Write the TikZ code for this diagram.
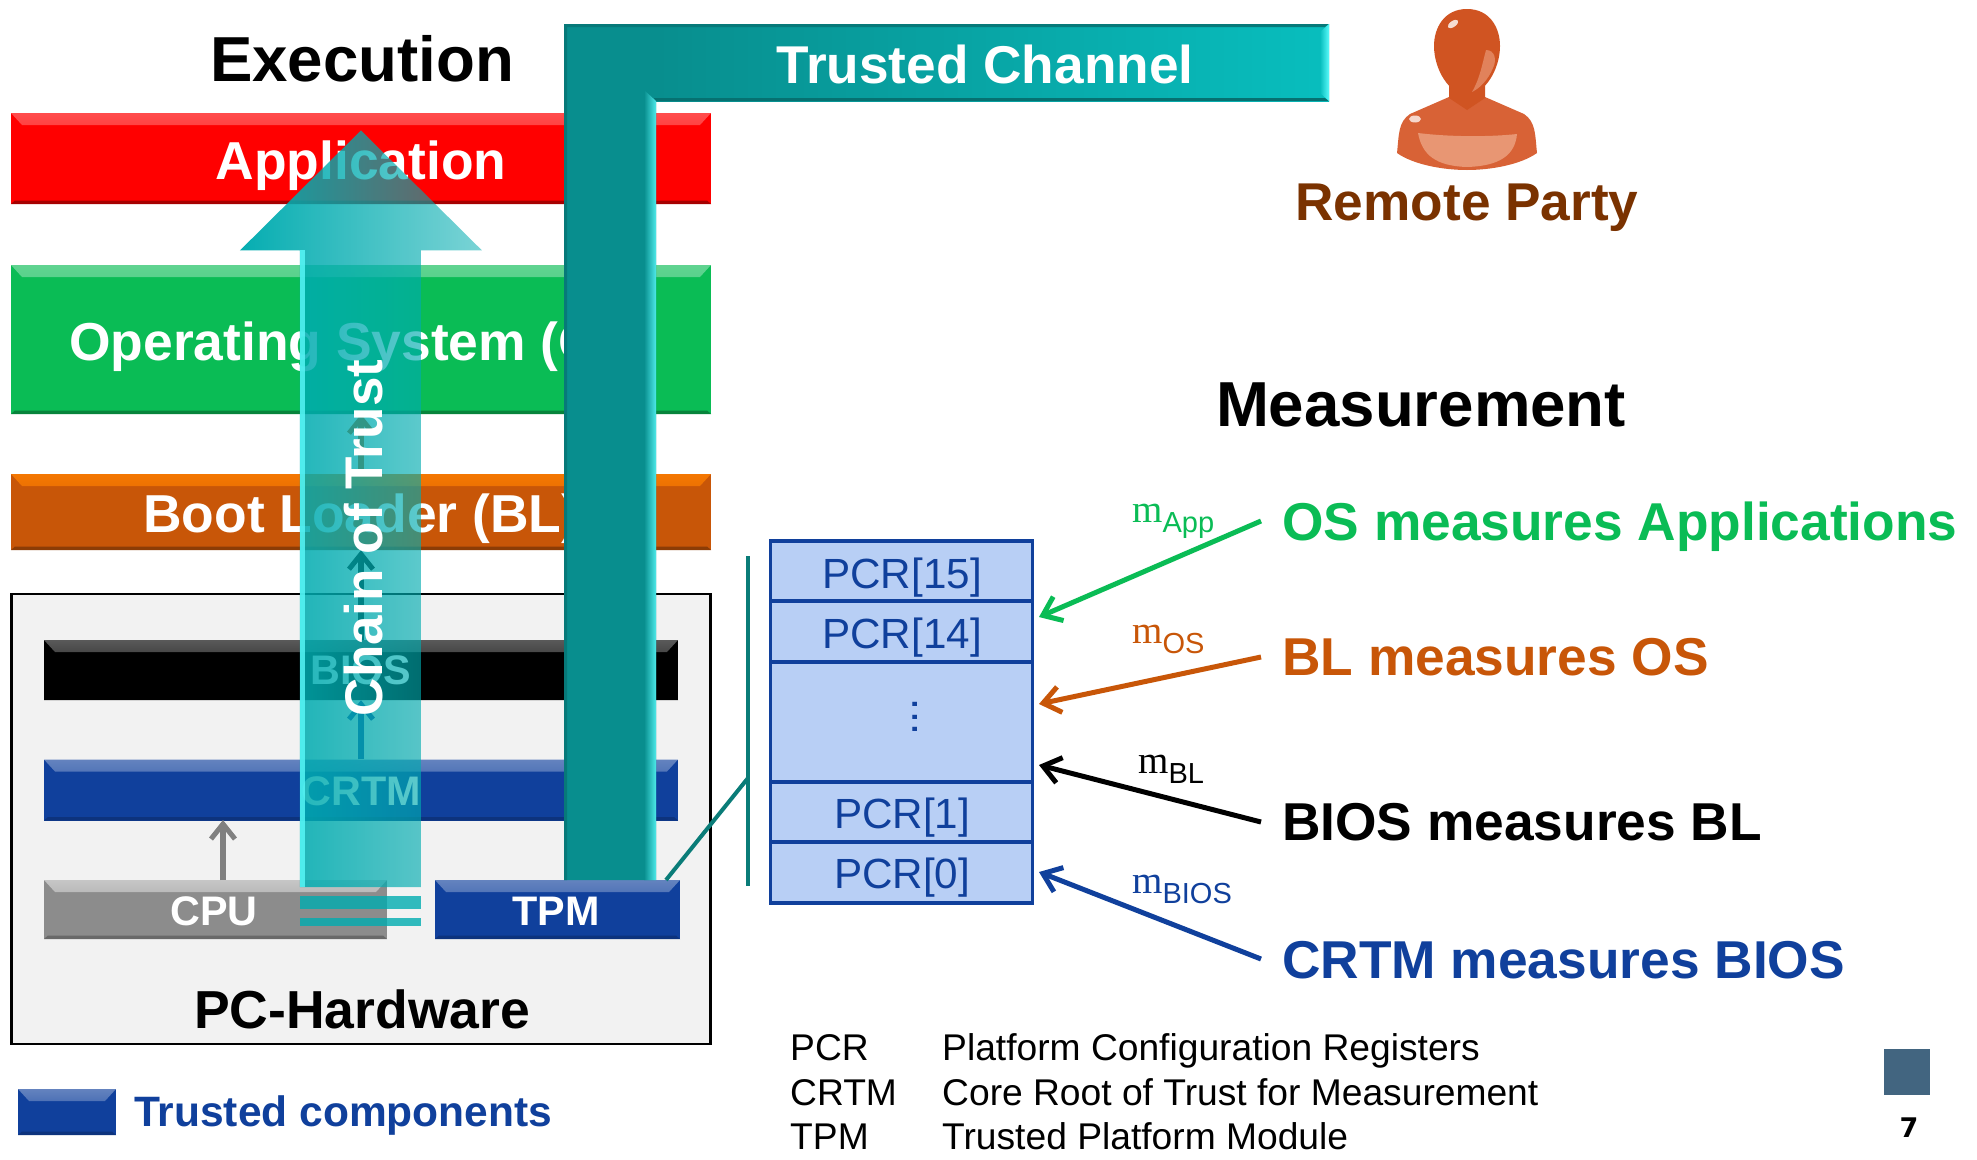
\documentclass[tikz,border=0pt]{standalone}
\usepackage{fontspec}
\setmainfont{Liberation Sans}
\newfontfamily\serifm{Liberation Serif}
\newfontfamily\pagefont{DejaVu Sans}
\usetikzlibrary{arrows.meta,fadings,positioning}
\tikzfading[name=chainfade,left color=transparent!2,right color=transparent!48]
\newcommand{\fsz}[1]{\fontsize{#1}{#1}\selectfont}
\tikzset{
 x=1pt,y=-1pt,
 layerbox/.style n args={3}{draw=none,fill=#1,minimum width=700pt,inner sep=0pt,
   path picture={
     \shade[top color=#2,bottom color=#1] (path picture bounding box.north west)--(path picture bounding box.north east)--([xshift=-11pt,yshift=-12pt]path picture bounding box.north east)--([xshift=11pt,yshift=-12pt]path picture bounding box.north west)--cycle;
     \fill[#3] (path picture bounding box.south west)--(path picture bounding box.south east)--([xshift=-4pt,yshift=3.5pt]path picture bounding box.south east)--([xshift=4pt,yshift=3.5pt]path picture bounding box.south west)--cycle;
   }},
 bartext/.style={text=white,font=\bfseries\fsz{53.4}},
 smalltext/.style={text=white,font=\bfseries\fsz{41.3}},
 heading/.style={font=\bfseries\fsz{63.6},anchor=base},
 meas/.style={font=\bfseries\fsz{53.3},anchor=base west,inner sep=0pt},
 pcrcell/.style={draw=pcrblue,line width=3.6pt,fill=pcrfill,minimum width=262pt,inner sep=0pt},
 pcrtext/.style={text=pcrblue,font=\fsz{42.2},anchor=base},
 legendtext/.style={font=\fsz{37.2},anchor=base west},
 mlabel/.style={anchor=base west,inner sep=0pt},
 measarrow/.style={line width=5pt,-{Straight Barb[length=17pt,width=26pt,line width=5pt]}},
 smallarrow/.style={line width=6pt,-{Straight Barb[length=15pt,width=24pt,line width=5pt]}},
}
\definecolor{appred}{RGB}{255,0,0}
\definecolor{osgreen}{RGB}{10,188,85}
\definecolor{blorange}{RGB}{200,86,8}
\definecolor{trustblue}{RGB}{16,64,156}
\definecolor{cpugray}{RGB}{140,140,140}
\definecolor{hwbg}{RGB}{242,242,242}
\definecolor{pcrblue}{RGB}{16,64,156}
\definecolor{pcrfill}{RGB}{184,207,245}
\definecolor{tealline}{RGB}{10,124,120}
\definecolor{chdark}{RGB}{8,142,142}
\definecolor{chbright}{RGB}{8,190,190}
\definecolor{chainc}{RGB}{0,172,176}
\definecolor{chglow}{RGB}{90,250,250}
\definecolor{brownt}{RGB}{122,50,0}
\definecolor{pagesq}{RGB}{66,101,128}
\definecolor{persona}{RGB}{208,84,34}
\definecolor{personc}{RGB}{216,98,54}
\definecolor{personb}{RGB}{232,150,115}
\newcommand{\mlab}[2]{{\color{#1}{\serifm\fsz{39}m}\raisebox{-10pt}{\fsz{29}#2}}}
\begin{document}
\begin{tikzpicture}
\useasboundingbox (0,0) rectangle (1977,1159);
\fill[white] (0,0) rectangle (1977,1159);

% PC hardware
\node[draw=black,line width=2.5pt,fill=hwbg,minimum width=699pt,minimum height=450pt,inner sep=0pt] (hw) at (361,819) {};
\node[anchor=base,font=\bfseries\fsz{53.5}] (hwt) at (362,1028) {PC-Hardware};

% Layers
\node[layerbox={appred}{red!70!white}{red!65!black},minimum height=91pt] (app) at (361,158.5) {};
\node[bartext,anchor=base] (appt) at (361,179) {Application};
\node[layerbox={osgreen}{osgreen!65!white}{osgreen!70!black},minimum height=149pt] (oslayer) at (361,339.5) {};
\node[bartext,anchor=base west,inner sep=0pt] (ost) at (69,360) {Operating System (OS)};
\node[layerbox={blorange}{orange!80!blorange}{blorange!70!black},minimum height=76pt] (bl) at (361,512) {};
\node[bartext,anchor=base west,inner sep=0pt] (blt) at (143,532) {Boot Loader (BL)};
\node[layerbox={black}{gray!70!black}{black},minimum width=634pt,minimum height=60pt] (bios) at (361,670) {};
\node[smalltext,anchor=base] (biost) at (361,684) {BIOS};
\node[layerbox={trustblue}{trustblue!65!white}{trustblue!80!black},minimum width=634pt,minimum height=61pt] (crtm) at (361,790) {};
\node[smalltext,anchor=base] (crtmt) at (361,805) {CRTM};
\node[layerbox={cpugray}{cpugray!50!white}{cpugray!75!black},minimum width=343pt,minimum height=59pt] (cpu) at (215.5,909.5) {};
\node[smalltext,anchor=base] (cput) at (214,925) {CPU};
\node[layerbox={trustblue}{trustblue!65!white}{trustblue!80!black},minimum width=245pt,minimum height=59pt] (tpm) at (557.5,909.5) {};
\node[smalltext,anchor=base] (tpmt) at (556,925) {TPM};

% Small flow arrows
\coordinate (cpuup) at (223,880);
\coordinate (crtmdown) at (223,820);
\draw[smallarrow,draw=gray] (cpuup) -- (crtmdown);
\draw[smallarrow,draw=trustblue] (crtm.north) -- (bios.south);
\draw[smallarrow,draw=black] (bios.north) -- (bl.south);
\draw[smallarrow,draw=blorange] (bl.north) -- (oslayer.south);

% Chain of trust arrow
\fill[chainc,path fading=chainfade]
  (361,130) -- (482,250) -- (421,250) -- (421,887) -- (300,887) -- (300,250) -- (240,250) -- cycle;
\fill[chainc,opacity=.8] (300,896) rectangle (421,909);
\fill[chainc,opacity=.8] (300,918) rectangle (421,926);
\fill[chglow,opacity=.8] (300,250) rectangle (305,887);
\node[text=white,font=\bfseries\fsz{53},rotate=90,anchor=base] (chain) at (382,538) {Chain of Trust};

% TPM to PCR lines
\coordinate (bracetop) at (748,556);
\coordinate (bracebot) at (748,886);
\coordinate (bracemid) at (748,778);
\draw[tealline,line width=4pt] (bracetop) -- (bracebot);
\draw[tealline,line width=4pt] (666,880) -- (bracemid);

% Trusted channel
\shade[left color=chdark,right color=chbright]
  (656,24) rectangle (1329,101);
\fill[chdark] (564,24) -- (656,24) -- (656,101) -- (656,880) -- (564,880) -- cycle;
\fill[chdark!85!black] (564,24) -- (1329,24) -- (1325,27) -- (567,27) -- (567,880) -- (564,880) -- cycle;
\fill[chdark!80!black] (656,101) -- (1329,101) -- (1325,98) -- (653,98) -- cycle;
\shade[left color=chdark,right color=chglow!85!chdark] (644,90) -- (656,101) -- (656,880) -- (644,880) -- cycle;
\shade[left color=chbright,right color=chglow] (1320,32) -- (1329,24) -- (1329,101) -- (1320,93) -- cycle;
\node[font=\bfseries\fsz{53.2},text=white,anchor=base] (chant) at (985,83) {Trusted Channel};

% Headings
\node[heading] (exec) at (362,81) {Execution};
\node[heading] (measure) at (1421,426) {Measurement};

% Person
\fill[personc] (1397,153) .. controls (1399,135) and (1398,122) .. (1410,114) -- (1449,97) -- (1485,97) -- (1524,114) .. controls (1536,122) and (1535,135) .. (1537,153) .. controls (1520,165) and (1490,170) .. (1467,170) .. controls (1444,170) and (1414,165) .. (1397,153) -- cycle;
\fill[persona] (1449,70) -- (1485,70) -- (1485,98) -- (1467,110) -- (1449,98) -- cycle;
\fill[persona] (1467,9) .. controls (1490,9) and (1500,28) .. (1500,46) .. controls (1500,70) and (1484,95) .. (1467,95) .. controls (1450,95) and (1434,70) .. (1434,46) .. controls (1434,28) and (1444,9) .. (1467,9) -- cycle;
\fill[personb!70!persona] (1486,50) .. controls (1495,50) and (1497,60) .. (1493,68) .. controls (1488,80) and (1480,88) .. (1472,92) .. controls (1480,78) and (1482,65) .. (1486,50) -- cycle;
\fill[personb] (1418,133) .. controls (1450,137) and (1490,137) .. (1517,134) .. controls (1515,155) and (1500,166) .. (1467,167) .. controls (1436,166) and (1422,155) .. (1418,133) -- cycle;
\fill[white,opacity=.8,rotate around={35:(1453,24)}] (1453,24) ellipse [x radius=6pt,y radius=3pt];
\fill[white,opacity=.75] (1415,119) ellipse [x radius=6pt,y radius=3.5pt];
\node[font=\bfseries\fsz{53.2},text=brownt,anchor=base] (remote) at (1467,220) {Remote Party};

% PCR stack
\node[pcrcell,minimum height=60pt] (p15) at (901.5,571) {};
\node[pcrcell,minimum height=61pt] (p14) at (901.5,631.5) {};
\node[pcrcell,minimum height=120pt] (pdots) at (901.5,722) {};
\node[pcrcell,minimum height=60pt] (p1) at (901.5,812) {};
\node[pcrcell,minimum height=61pt] (p0) at (901.5,872.5) {};
\node[pcrtext] (t15) at (902,588) {PCR[15]};
\node[pcrtext] (t14) at (902,648) {PCR[14]};
\node[pcrtext] (t1) at (902,828) {PCR[1]};
\node[pcrtext] (t0) at (902,888) {PCR[0]};
\node[text=pcrblue,font=\fsz{44},rotate=90,inner sep=0pt] (tdots) at (915,717) {...};

% Measurement labels
\node[meas,text=osgreen] (mos) at (1282,540) {OS measures Applications};
\node[meas,text=blorange] (mbl) at (1282,675) {BL measures OS};
\node[meas,text=black] (mbios) at (1282,840) {BIOS measures BL};
\node[meas,text=trustblue] (mcrtm) at (1282,978) {CRTM measures BIOS};
\coordinate (gs) at (1261,521); \coordinate (ge) at (1039,617);
\coordinate (ors) at (1261,657); \coordinate (ore) at (1039,704);
\coordinate (ks) at (1261,822); \coordinate (ke) at (1039,765);
\coordinate (bs) at (1261,959); \coordinate (be) at (1039,872);
\draw[measarrow,draw=osgreen] (gs) -- (ge);
\draw[measarrow,draw=blorange] (ors) -- (ore);
\draw[measarrow,draw=black] (ks) -- (ke);
\draw[measarrow,draw=trustblue] (bs) -- (be);
\node[mlabel] (l1) at (1132,522) {\mlab{osgreen}{App}};
\node[mlabel] (l2) at (1132,643) {\mlab{blorange}{OS}};
\node[mlabel] (l3) at (1138,773) {\mlab{black}{BL}};
\node[mlabel] (l4) at (1132,893) {\mlab{trustblue}{BIOS}};

% Legend
\node[layerbox={trustblue}{trustblue!65!white}{trustblue!80!black},minimum width=98pt,minimum height=46pt] (sw) at (67,1112) {};
\node[anchor=base west,text=trustblue,font=\bfseries\fsz{42.5},inner sep=0pt] (swt) at (134,1126) {Trusted components};
\node[legendtext,inner sep=0pt] (a1) at (790,1060) {PCR};
\node[legendtext,inner sep=0pt] (a2) at (790,1105) {CRTM};
\node[legendtext,inner sep=0pt] (a3) at (790,1149) {TPM};
\node[legendtext,inner sep=0pt] (b1) at (942,1060) {Platform Configuration Registers};
\node[legendtext,inner sep=0pt] (b2) at (942,1105) {Core Root of Trust for Measurement};
\node[legendtext,inner sep=0pt] (b3) at (942,1149) {Trusted Platform Module};

% Page number
\node[fill=pagesq,minimum width=46pt,minimum height=46pt,inner sep=0pt] (sq) at (1907,1072) {};
\node[font=\pagefont\bfseries\fsz{27},anchor=base] (pg) at (1909,1137) {7};
\end{tikzpicture}
\end{document}
